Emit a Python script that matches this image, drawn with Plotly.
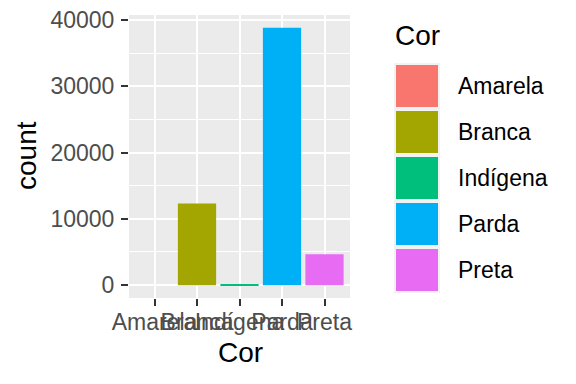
import plotly.graph_objects as go

categories = ["Amarela", "Branca", "Indígena", "Parda", "Preta"]
counts = [0, 12330, 150, 38800, 4660]
colors = ["#F8766D", "#A3A500", "#00BF7D", "#00B0F6", "#E76BF3"]
y_ticks = [0, 10000, 20000, 30000, 40000]
x_title = "Cor"
y_title = "count"
legend_title = "Cor"

W, H = 576, 384
L, R, T, B = 129, 350, 15, 298  # plot area in pixels


def px(x):
    return (x - L) / (R - L)


def py(y):
    return (B - y) / (B - T)


FONT = "Liberation Sans, Arial, sans-serif"

fig = go.Figure()
fig.add_trace(go.Bar(
    x=categories, y=counts, marker=dict(color=colors, line=dict(width=0)),
    width=0.9, showlegend=False, hoverinfo="x+y",
))

ymax = max(counts)
pad = 0.05 * ymax

fig.update_layout(
    width=W, height=H,
    margin=dict(l=L, r=W - R, t=T, b=H - B, pad=0, autoexpand=False),
    paper_bgcolor="white", plot_bgcolor="#EBEBEB",
    font=dict(family=FONT, color="#4D4D4D"),
    showlegend=False,
    bargap=0.1,
)
fig.update_xaxes(
    type="category", range=[-0.6, len(categories) - 0.4], automargin=False,
    showgrid=True, gridcolor="white", gridwidth=2.2,
    ticks="outside", ticklen=7, tickwidth=2, tickcolor="#333333",
    tickangle=0, tickfont=dict(size=23, color="#4D4D4D", family=FONT),
    ticklabelstandoff=-4,
    zeroline=False, showline=False, fixedrange=True,
)
fig.update_yaxes(
    range=[-pad, ymax + pad], automargin=False,
    tickvals=y_ticks, ticktext=[str(v) for v in y_ticks],
    showgrid=True, gridcolor="white", gridwidth=2.2,
    minor=dict(dtick=5000, tick0=0, showgrid=True, gridcolor="white", gridwidth=1.1, ticks=""),
    ticks="outside", ticklen=7, tickwidth=2, tickcolor="#333333",
    tickfont=dict(size=23, color="#4D4D4D", family=FONT),
    ticklabelstandoff=2,
    zeroline=False, showline=False, fixedrange=True,
)

annotations = [
    dict(text=x_title, x=px(240), y=py(352), xref="paper", yref="paper",
         showarrow=False, font=dict(size=28, color="black", family=FONT),
         xanchor="center", yanchor="middle"),
    dict(text=y_title, x=px(26), y=py(156), xref="paper", yref="paper",
         showarrow=False, textangle=-90, font=dict(size=28, color="black", family=FONT),
         xanchor="center", yanchor="middle"),
    dict(text=legend_title, x=px(393), y=py(36), xref="paper", yref="paper",
         showarrow=False, font=dict(size=28, color="black", family=FONT),
         xanchor="left", yanchor="middle"),
]
shapes = []
key_top, key_size = 63, 46
for i, (cat, col) in enumerate(zip(categories, colors)):
    y0 = key_top + i * key_size
    shapes.append(dict(type="rect", xref="paper", yref="paper",
                       x0=px(394), x1=px(440), y0=py(y0), y1=py(y0 + key_size),
                       fillcolor="#F2F2F2", line=dict(width=0), layer="above"))
    shapes.append(dict(type="rect", xref="paper", yref="paper",
                       x0=px(396), x1=px(438), y0=py(y0 + 2), y1=py(y0 + key_size - 2),
                       fillcolor=col, line=dict(width=0), layer="above"))
    annotations.append(dict(text=cat, x=px(456), y=py(y0 + key_size / 2), xref="paper", yref="paper",
                            showarrow=False, font=dict(size=23, color="black", family=FONT),
                            xanchor="left", yanchor="middle"))

fig.update_layout(annotations=annotations, shapes=shapes)
fig.write_html("out.html")
